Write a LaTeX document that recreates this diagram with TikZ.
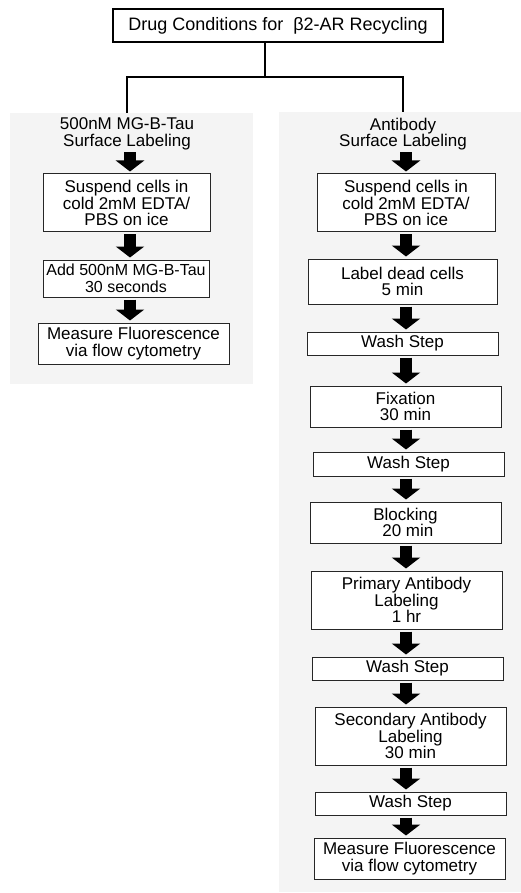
\documentclass[tikz,border=0pt]{standalone}
\usepackage{fontspec}
\setmainfont{Liberation Sans}
\usepackage{tikz}
\usetikzlibrary{arrows.meta,calc,positioning}
\definecolor{panelgray}{HTML}{F4F4F4}
\tikzset{
panel/.style={fill=panelgray,draw=none,inner sep=0pt},
heading/.style={align=center,inner sep=0pt,font=\fontsize{17}{16.5}\selectfont},
stepbox/.style={draw=black!85,line width=1pt,fill=white,align=center,inner sep=0pt,minimum width=191,font=\fontsize{17}{16.5}\selectfont},
link/.style={line width=2.6pt},
flow/.style={line width=12pt,-{Triangle[width=28pt,length=11pt]},shorten <=2pt,shorten >=2pt}
}

\begin{document}
\begin{tikzpicture}[x=1pt,y=-1pt]
\useasboundingbox (0,0) rectangle (521,893);
\node[draw,line width=1.8pt,minimum width=330,minimum height=33,inner sep=0pt,font=\fontsize{18}{18}\selectfont] (title) at (278,25.5) {Drug Conditions for\ \ β2-AR Recycling};
\node[panel,minimum width=243,minimum height=271] (leftPanel) at (131.5,248.5) {};
\node[panel,minimum width=242,minimum height=780] (rightPanel) at (400,502) {};
\node[heading] (tauHead) at (127,134) {500nM MG-B-Tau\\Surface Labeling};
\node[heading] (abHead) at (403,134) {Antibody\\Surface Labeling};
\coordinate (split) at (265,77);
\draw[link] (title.south -| split) -- (split);
\draw[link] (tauHead |- leftPanel.north) |- (split) -| (abHead |- rightPanel.north);
% MG-B-Tau labeling
\node[stepbox,minimum width=167,minimum height=58] (tauSuspend) at (126.5,203) {Suspend cells in\\cold 2mM EDTA/\\PBS on ice};
\node[stepbox,minimum width=166,minimum height=37,font=\fontsize{16}{16.5}\selectfont] (tauAdd) at (126,278.5) {Add 500nM MG-B-Tau\\30 seconds};
\node[stepbox,minimum height=41] (tauMeasure) at (133.5,343.5) {Measure Fluorescence\\via flow cytometry};
% antibody labeling
\node[stepbox,minimum width=178,minimum height=58] (abSuspend) at (406,203) {Suspend cells in\\cold 2mM EDTA/\\PBS on ice};
\node[stepbox,minimum width=189,minimum height=45] (abDead) at (402.5,281.5) {Label dead cells\\5 min};
\node[stepbox,minimum height=23] (abWashA) at (402.5,343.5) {Wash Step};
\node[stepbox,minimum height=41] (abFix) at (405.5,406.5) {Fixation\\30 min};
\node[stepbox,minimum height=24] (abWashB) at (408.5,464) {Wash Step};
\node[stepbox,minimum height=41] (abBlock) at (405.5,522.5) {Blocking\\\ 20 min};
\node[stepbox,minimum height=58] (abPrimary) at (406.5,600) {Primary Antibody\\Labeling\\1 hr};
\node[stepbox,minimum height=23] (abWashC) at (407.5,668.5) {Wash Step};
\node[stepbox,minimum height=58] (abSecondary) at (410.5,736) {Secondary Antibody\\Labeling\\30 min};
\node[stepbox,minimum height=23] (abWashD) at (410.5,803.5) {Wash Step};
\node[stepbox,minimum height=41] (abMeasure) at (409.5,858.5) {Measure Fluorescence\\via flow cytometry};
\coordinate (tauAxis) at (130,0);
\coordinate (abAxis) at (406,0);
\foreach \a/\b in {tauHead/tauSuspend,tauSuspend/tauAdd,tauAdd/tauMeasure}
  \draw[flow] (\a.south -| tauAxis) -- (\b.north -| tauAxis);
\foreach \a/\b in {abHead/abSuspend,abSuspend/abDead,abDead/abWashA,abWashA/abFix,abFix/abWashB,abWashB/abBlock,abBlock/abPrimary,abPrimary/abWashC,abWashC/abSecondary,abSecondary/abWashD,abWashD/abMeasure}
  \draw[flow] (\a.south -| abAxis) -- (\b.north -| abAxis);
\end{tikzpicture}
\end{document}
